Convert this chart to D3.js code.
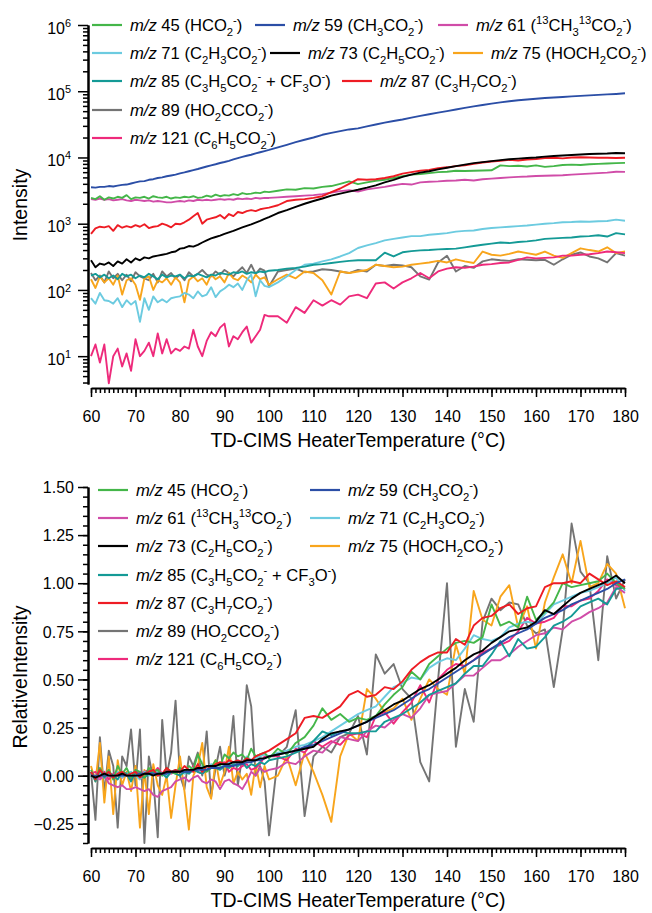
<!DOCTYPE html>
<html>
<head>
<meta charset="utf-8">
<script src="https://cdn.jsdelivr.net/npm/d3@7"></script>
<style>
  body { margin: 0; background: #fff; }
  text { font-family: "Liberation Sans", Arial, sans-serif; fill: #000; }
</style>
</head>
<body>
<svg id="chart" width="652" height="913"></svg>
<script>
// heater temperature (°C) of every sample
const temps = [60,61,62,63,64,65,66,67,68,69,70,71,72,73,74,75,76,77,78,79,80,81,82,83,84,85,86,87,88,89,90,91,92,93,94,95,96,97,98,99,100,
  102,104,106,108,110,112,114,116,118,120,122,124,126,128,130,132,134,136,138,140,142,144,146,148,150,152,154,156,158,160,162,164,166,168,170,172,174,176,178,180];

const ions = ['45', '59', '61', '71', '73', '75', '85', '87', '89', '121'];
const formulas = ['(HCO_{2}^{-})', '(CH_{3}CO_{2}^{-})', '(^{13}CH_{3}^{13}CO_{2}^{-})', '(C_{2}H_{3}CO_{2}^{-})',
  '(C_{2}H_{5}CO_{2}^{-})', '(HOCH_{2}CO_{2}^{-})', '(C_{3}H_{5}CO_{2}^{-} + CF_{3}O^{-})', '(C_{3}H_{7}CO_{2}^{-})',
  '(HO_{2}CCO_{2}^{-})', '(C_{6}H_{5}CO_{2}^{-})'];
const colors = ['#44b649', '#2b4ea6', '#d04ca8', '#6ccbe0', '#000000', '#f8a51c', '#149a96', '#ee1c24', '#747474', '#ee2a7b'];

const yTickDecades = [10, 100, 1000, 10000, 100000, 1000000];
const relTicks = [-0.25, 0, 0.25, 0.5, 0.75, 1, 1.25, 1.5];
const xTicks = [60, 70, 80, 90, 100, 110, 120, 130, 140, 150, 160, 170, 180];

// intensity (top panel)
const int45 = [2450,2350,2600,2300,2500,2400,2550,2450,2700,2350,2500,2450,2550,2400,2600,2500,2450,2550,2400,2500,2450,2550,2500,2600,2450,2500,2650,2550,2750,2600,2700,2650,2800,2700,2900,2800,2850,2950,2900,3050,3000,
  3150,3300,3250,3450,3400,3600,3700,4000,4350,3950,4200,4450,4600,4900,5200,5500,5600,5800,6000,6100,6300,6250,6300,6350,6400,7600,7400,7500,7300,7600,7200,7400,7700,7800,7700,7900,8000,8100,8200,8300];
const int59 = [3550,3500,3600,3600,3700,3650,3750,3850,3900,4050,4200,4350,4400,4600,4700,4900,5000,5200,5350,5500,5750,5950,6200,6450,6700,7000,7300,7600,7900,8250,8550,8900,9350,9800,10200,10600,11000,11500,12000,12500,13000,
  14200,15500,17000,18500,20000,22000,23500,25000,26500,27500,29500,31500,33500,35500,37500,40000,42500,45000,47500,50000,53000,56000,59000,62000,65000,68000,70500,73000,75000,77000,79000,80500,82000,83500,85000,86500,88000,89500,91000,93000];
const int61 = [2350,2300,2400,2300,2350,2250,2300,2350,2250,2200,2300,2250,2200,2250,2150,2200,2150,2100,2100,2150,2200,2150,2250,2200,2300,2250,2300,2250,2300,2350,2300,2350,2300,2400,2350,2400,2350,2450,2400,2450,2450,
  2500,2550,2600,2650,2700,2800,2950,3100,3200,3050,3300,3450,3600,3800,4000,3900,4200,4300,4350,4450,4500,4600,4500,4700,4800,4900,5000,5100,5150,5250,5300,5350,5400,5500,5600,5700,5800,5900,6100,6050];
const int71 = [75,62,90,70,68,62,75,55,70,60,68,33,75,50,80,65,72,65,75,78,80,90,85,75,95,80,85,110,78,95,105,120,110,125,100,140,170,80,140,115,110,
  130,160,200,240,250,270,290,320,360,430,470,510,560,590,620,650,650,680,700,720,760,780,790,830,860,880,900,920,940,970,1000,1020,1050,1060,1080,1070,1090,1100,1150,1110];
const int73 = [280,220,250,240,260,230,270,250,290,260,300,280,310,300,320,330,340,350,370,380,420,430,460,450,480,520,560,600,630,660,700,740,780,830,880,930,980,1040,1100,1180,1260,
  1450,1600,1800,2000,2200,2400,2650,2850,3050,3250,3500,3800,4200,4600,5100,5500,5900,6200,6600,7000,7400,7800,8200,8500,8800,9100,9400,9600,9800,10000,10300,10500,10700,10900,11100,11300,11400,11500,11700,11600];
const int75 = [145,107,160,130,150,120,165,85,140,150,120,71,150,160,100,140,130,150,120,155,130,65,140,160,135,150,120,170,145,160,130,180,150,140,165,150,130,170,145,155,120,
  145,170,150,190,180,140,85,190,180,190,200,240,230,220,225,240,250,260,275,260,290,270,255,380,340,330,350,380,360,340,380,330,305,360,425,400,380,440,360,380];
const int85 = [165,175,155,170,150,165,145,175,160,170,150,165,155,175,160,145,170,155,165,160,170,150,165,160,175,165,155,170,165,180,175,170,185,180,190,175,185,180,190,185,195,
  200,210,215,225,240,245,255,265,275,280,280,280,365,320,370,385,395,400,410,415,420,440,460,480,500,520,510,530,540,560,590,600,610,620,640,650,670,640,720,690];
const int87 = [700,850,900,880,920,780,950,870,920,880,950,900,980,860,900,920,1000,950,880,1000,980,1050,1150,1300,1450,1000,1150,1200,1250,1350,1200,1400,1300,1500,1450,1550,1600,1550,1650,1700,1750,
  1900,2200,2300,2350,2450,2600,3000,3400,4000,4700,4600,4700,4900,5200,5700,6000,6300,6500,6900,7100,7400,7600,8000,8400,8700,8900,9200,9000,9300,9500,9800,9900,9700,10000,10100,10000,9900,9900,9800,9900];
const int89 = [180,140,165,130,190,150,175,140,170,135,185,160,150,140,175,130,190,160,180,150,170,140,185,160,175,200,170,160,190,170,200,180,160,190,220,180,240,175,210,195,113,
  190,200,210,185,190,205,200,190,180,200,190,240,230,240,235,220,160,143,260,328,190,230,215,270,290,280,275,290,285,280,285,240,290,340,368,320,300,260,360,330];
const int121 = [10,15,8,15,3.9,10,13,7,11,6,18,10,12,16,10,22,11,18,11,13,12,14,13,25,14,10,17,23,20,27,31,14,20,18,23,28,16,20,25,42,40,
  40,32,55,45,70,58,70,60,80,85,75,125,130,105,130,150,180,150,190,210,220,215,225,240,245,255,260,285,310,300,305,310,330,330,340,345,360,380,370,360];

// relative intensity (bottom panel)
const rel45 = [0.03,-0.02,0.04,0,0.03,-0.02,0.05,0.01,0.04,-0.01,0.03,0.02,-0.01,0.04,0.02,0.03,0,0.04,0.02,0.01,0.04,0.02,0.05,0.03,0.11,0.06,0.02,0.04,0.08,0.05,0.11,0.09,0.12,0.1,0.11,0.08,0.14,0.1,0.11,0.12,0.09,
  0.14,0.11,0.17,0.2,0.26,0.35,0.29,0.32,0.28,0.3,0.29,0.31,0.37,0.42,0.46,0.54,0.5,0.58,0.62,0.66,0.69,0.7,0.69,0.72,0.89,0.78,0.8,0.77,0.93,0.81,0.85,0.9,1.0,0.98,0.99,1.0,1.01,1.05,1.0,0.97];
const rel59 = [0,0,0,0,0,0,0,0,0,0,0,0.01,0.01,0.01,0.01,0.01,0.01,0.01,0.02,0.02,0.02,0.02,0.02,0.03,0.03,0.03,0.03,0.04,0.04,0.04,0.05,0.05,0.05,0.06,0.06,0.07,0.07,0.08,0.08,0.09,0.1,
  0.11,0.12,0.13,0.15,0.16,0.18,0.2,0.22,0.24,0.26,0.28,0.3,0.32,0.34,0.37,0.4,0.43,0.45,0.48,0.51,0.54,0.57,0.6,0.63,0.66,0.69,0.72,0.74,0.76,0.79,0.82,0.84,0.86,0.89,0.91,0.93,0.95,0.97,1.0,1.02];
const rel61 = [0,-0.01,-0.02,0,-0.04,-0.05,-0.06,-0.05,-0.07,-0.07,-0.06,-0.07,-0.08,-0.07,-0.1,-0.11,-0.08,-0.07,-0.06,-0.03,-0.02,-0.01,-0.03,-0.01,0,-0.03,-0.04,-0.02,-0.03,-0.07,-0.03,-0.02,-0.04,-0.05,-0.07,-0.03,0.02,0,0.04,0.02,0.03,
  0.04,0.07,0.06,0.1,0.13,0.12,0.17,0.2,0.19,0.18,0.23,0.26,0.25,0.29,0.32,0.3,0.35,0.42,0.43,0.44,0.48,0.52,0.52,0.56,0.6,0.6,0.63,0.67,0.7,0.73,0.74,0.77,0.76,0.8,0.82,0.85,0.87,0.9,0.98,0.95];
const rel71 = [0,-0.02,0.02,-0.01,0.01,0,0.02,-0.01,0.01,0.02,0,-0.02,0.02,0,0.01,0.02,0.01,0,0.02,0.03,0.02,0.01,0.03,0.04,0.03,0.05,0.04,0.06,0.05,0.04,0.06,0.07,0.05,0.08,0.07,0.1,0.08,0.09,0.1,0.11,0.1,
  0.12,0.13,0.15,0.16,0.18,0.2,0.23,0.26,0.29,0.32,0.34,0.36,0.41,0.46,0.48,0.51,0.5,0.56,0.59,0.61,0.6,0.66,0.73,0.71,0.7,0.72,0.77,0.79,0.8,0.79,0.84,0.89,0.91,0.93,0.95,0.96,0.98,1.0,1.03,0.96];
const rel73 = [0,-0.01,0,0.01,0,0,0,0.01,0,0,0,0,0.01,0.01,0,0.01,0.01,0.02,0.02,0.02,0.02,0.03,0.03,0.03,0.04,0.04,0.05,0.05,0.05,0.06,0.06,0.06,0.07,0.07,0.07,0.08,0.08,0.08,0.09,0.09,0.1,
  0.11,0.12,0.13,0.14,0.15,0.19,0.22,0.23,0.24,0.26,0.28,0.31,0.34,0.37,0.39,0.42,0.45,0.47,0.5,0.53,0.56,0.6,0.63,0.65,0.69,0.72,0.75,0.76,0.77,0.8,0.86,0.84,0.88,0.92,0.95,0.97,0.99,1.01,1.04,1.0];
const rel75 = [0.05,-0.03,0.17,-0.14,0.1,-0.2,0.08,-0.05,0.02,-0.08,0.05,-0.27,0.03,-0.2,0.06,-0.05,-0.1,0.0,-0.22,-0.05,0.1,-0.08,-0.28,0.0,0.05,0.17,-0.06,-0.12,0.08,-0.05,0.02,0.15,-0.04,0.02,-0.02,0.01,-0.1,0.06,-0.06,0.05,-0.02,
  0.0,0.1,-0.05,0.12,0.02,-0.1,-0.24,0.1,0.22,0.18,0.45,0.4,0.33,0.35,0.4,0.29,0.4,0.5,0.45,0.42,0.68,0.53,0.96,0.81,0.78,0.93,0.99,0.77,0.88,0.66,0.9,1.03,1.15,1.0,1.22,0.98,1.0,1.1,1.05,0.87];
const rel85 = [0.02,-0.03,0.03,-0.01,0.02,0,-0.02,0.02,0.01,-0.03,0.02,0,-0.01,0.01,0.02,0,0.01,-0.01,0.02,0.01,0,0.02,0.01,0.03,0.02,0.01,0.03,0.05,0.04,0.03,0.05,0.04,0.06,0.05,0.07,0.04,0.06,0.05,0.07,0.06,0.08,
  0.09,0.1,0.12,0.14,0.18,0.23,0.21,0.23,0.22,0.22,0.23,0.23,0.28,0.3,0.32,0.35,0.38,0.42,0.44,0.46,0.48,0.53,0.57,0.57,0.63,0.7,0.62,0.71,0.66,0.67,0.72,0.78,0.8,0.83,0.88,0.9,0.92,0.89,0.97,0.98];
const rel87 = [0.02,-0.02,0.03,0,0.02,-0.01,0.01,0.02,0,0.01,0.02,-0.01,0.01,0.02,0.03,0,0.01,0.04,0.02,0.03,0.02,0.05,0.03,0.02,0.06,0.02,0.05,0.04,0.06,0.07,0.06,0.08,0.07,0.08,0.07,0.09,0.08,0.1,0.11,0.12,0.13,
  0.16,0.19,0.22,0.3,0.31,0.3,0.33,0.36,0.42,0.44,0.41,0.42,0.46,0.45,0.49,0.55,0.59,0.62,0.64,0.64,0.71,0.68,0.78,0.82,0.83,0.87,0.89,0.84,0.87,0.88,0.98,1.0,1.0,1.01,1.0,1.05,1.02,0.99,1.01,0.98];
const rel89 = [0.02,-0.23,0.2,-0.09,0.13,0.05,-0.27,0.1,0.05,0.24,-0.05,0.24,-0.35,0.1,-0.02,-0.32,0.29,0.0,0.12,0.39,0.0,-0.07,0.1,0.05,0.12,0.0,0.23,-0.11,0.04,0.15,0.0,0.08,0.31,-0.05,0.1,0.47,0.36,0.0,0.05,-0.03,-0.31,
  0.1,0.15,0.34,-0.21,0.1,0.15,0.12,0.2,0.22,0.31,0.11,0.63,0.53,0.58,0.45,0.4,0.07,-0.03,0.5,1.0,0.15,0.45,0.28,0.8,0.92,0.86,0.9,0.89,0.78,0.74,0.76,0.46,0.76,1.31,1.06,1.0,0.6,1.14,0.92,1.02];
const rel121 = [0.01,0.02,-0.01,0.02,-0.02,0.01,0.02,-0.01,0.01,-0.02,0.03,0.01,0.02,0.03,0.01,0.04,0.01,0.03,0.01,0.02,0.02,0.02,0.02,0.05,0.02,0.01,0.03,0.05,0.04,0.06,0.07,0.02,0.04,0.03,0.05,0.06,0.03,0.04,0.06,0.1,0.1,
  0.1,0.08,0.14,0.12,0.18,0.15,0.18,0.16,0.21,0.22,0.2,0.31,0.33,0.27,0.33,0.38,0.47,0.38,0.5,0.55,0.58,0.57,0.6,0.64,0.66,0.68,0.7,0.75,0.82,0.79,0.8,0.82,0.88,0.88,0.91,0.92,0.96,1.02,0.99,0.97];

const intensity = [int45, int59, int61, int71, int73, int75, int85, int87, int89, int121];
const relative = [rel45, rel59, rel61, rel71, rel73, rel75, rel85, rel87, rel89, rel121];

// gray and orange underneath, black on top
const drawOrder = [8, 5, 9, 2, 3, 6, 0, 7, 1, 4];

const svg = d3.select('#chart');

const x = d3.scaleLinear().domain([60, 180]).range([91, 625]);
const yTop = d3.scaleLog().domain([3.8, 1e6]).range([384, 25]);
const yBot = d3.scaleLinear().domain([-0.35, 1.5]).range([843, 487]);

const topAxisY = 388;
const botAxisY = 848;
const yAxisX = 88;
const legendSize = 16.6;

// rich text: _{..} subscript, ^{..} superscript
function richText(sel, markup, size) {
  const parts = markup.split(/(_\{[^}]*\}|\^\{[^}]*\})/).filter((p) => p.length);
  let shift = 0;
  parts.forEach((p) => {
    let txt = p, target = 0, fs = size;
    if (p[0] === '_') { txt = p.slice(2, -1); target = size * 0.3; fs = size * 0.68; }
    else if (p[0] === '^') { txt = p.slice(2, -1); target = -size * 0.42; fs = size * 0.68; }
    sel.append('tspan').attr('dy', target - shift).attr('font-size', fs).text(txt);
    shift = target;
  });
}

function styleAxis(g) {
  g.select('.domain').attr('stroke', '#000').attr('stroke-width', 2);
  g.selectAll('.tick line').attr('stroke', '#000').attr('stroke-width', 1.5);
}

function xAxis(yPos) {
  svg.append('g').attr('transform', `translate(0,${yPos})`)
    .call(d3.axisBottom(x).tickValues(d3.range(60, 181, 1)).tickSize(5).tickSizeOuter(0).tickFormat(''))
    .call(styleAxis)
    .call((g) => g.select('.domain').remove());
  svg.append('g').attr('transform', `translate(0,${yPos})`)
    .call(d3.axisBottom(x).tickValues(xTicks).tickSize(9).tickSizeOuter(0).tickFormat(d3.format('d')))
    .call(styleAxis)
    .call((g) => g.selectAll('text').attr('y', 34).attr('dy', null).attr('font-size', 16)
      .attr('font-family', '"Liberation Sans", Arial, sans-serif'));
  svg.append('text')
    .attr('x', (x.range()[0] + x.range()[1]) / 2).attr('y', yPos + 59)
    .attr('text-anchor', 'middle').attr('font-size', 19.5)
    .text('TD-CIMS HeaterTemperature (°C)');
}

// ---- top panel ----
const minorLog = [];
for (let e = 0; e < 6; e++) {
  for (let m = 2; m <= 9; m++) {
    const v = m * Math.pow(10, e);
    if (v >= 3.8) minorLog.push(v);
  }
}
svg.append('g').attr('transform', `translate(${yAxisX},0)`)
  .call(d3.axisLeft(yTop).tickValues(minorLog).tickSize(5).tickSizeOuter(0).tickFormat(''))
  .call(styleAxis);
svg.append('g').attr('transform', `translate(${yAxisX},0)`)
  .call(d3.axisLeft(yTop).tickValues(yTickDecades).tickSize(10).tickSizeOuter(0).tickFormat(''))
  .call(styleAxis);

const decadeLabels = svg.append('g').selectAll('text').data(yTickDecades).enter().append('text')
  .attr('x', 71).attr('y', (d) => yTop(d) + 8.5)
  .attr('text-anchor', 'end').attr('font-size', 16);
decadeLabels.each(function (d) {
  richText(d3.select(this), '10^{' + Math.round(Math.log10(d)) + '}', 16);
});

svg.append('text')
  .attr('transform', `translate(27,205) rotate(-90)`)
  .attr('text-anchor', 'middle').attr('font-size', 19.5)
  .text('Intensity');

xAxis(topAxisY);

const lineTop = d3.line().x((d) => x(d[0])).y((d) => yTop(d[1]));
svg.append('g').selectAll('path').data(drawOrder).enter().append('path')
  .attr('d', (i) => lineTop(temps.map((t, k) => [t, intensity[i][k]])))
  .attr('fill', 'none').attr('stroke', (i) => colors[i])
  .attr('stroke-width', 1.9).attr('stroke-linejoin', 'round');

// ---- bottom panel ----
svg.append('g').attr('transform', `translate(${yAxisX},0)`)
  .call(d3.axisLeft(yBot).tickValues(d3.range(-0.35, 1.51, 0.05)).tickSize(5).tickSizeOuter(0).tickFormat(''))
  .call(styleAxis);
svg.append('g').attr('transform', `translate(${yAxisX},0)`)
  .call(d3.axisLeft(yBot).tickValues(relTicks).tickSize(10).tickSizeOuter(0).tickFormat(d3.format('.2f')))
  .call(styleAxis)
  .call((g) => g.selectAll('text').attr('x', -14).attr('dy', '0.36em').attr('font-size', 16)
    .attr('font-family', '"Liberation Sans", Arial, sans-serif'));

svg.append('text')
  .attr('transform', `translate(27,677) rotate(-90)`)
  .attr('text-anchor', 'middle').attr('font-size', 19.5)
  .text('RelativeIntensity');

xAxis(botAxisY);

const lineBot = d3.line().x((d) => x(d[0])).y((d) => yBot(d[1]));
svg.append('g').selectAll('path').data(drawOrder).enter().append('path')
  .attr('d', (i) => lineBot(temps.map((t, k) => [t, relative[i][k]])))
  .attr('fill', 'none').attr('stroke', (i) => colors[i])
  .attr('stroke-width', 1.9).attr('stroke-linejoin', 'round');

// ---- legends ----
function legend(items) {
  const g = svg.append('g');
  items.forEach((it) => {
    g.append('line')
      .attr('x1', it.x).attr('x2', it.x + 30).attr('y1', it.y).attr('y2', it.y)
      .attr('stroke', colors[it.i]).attr('stroke-width', 2.2);
    const t = g.append('text').attr('x', it.x + 38).attr('y', it.y + 6).attr('font-size', legendSize);
    t.append('tspan').attr('font-style', 'italic').text('m/z');
    richText(t, ' ' + ions[it.i] + ' ' + formulas[it.i], legendSize);
  });
}

legend([
  { i: 0, x: 92, y: 25 }, { i: 1, x: 255, y: 25 }, { i: 2, x: 438, y: 25 },
  { i: 3, x: 92, y: 53 }, { i: 4, x: 270, y: 53 }, { i: 5, x: 453, y: 53 },
  { i: 6, x: 92, y: 81 }, { i: 7, x: 342, y: 81 },
  { i: 8, x: 92, y: 110 },
  { i: 9, x: 92, y: 138 }
]);

legend([
  { i: 0, x: 98, y: 490 }, { i: 1, x: 310, y: 490 },
  { i: 2, x: 98, y: 518 }, { i: 3, x: 310, y: 518 },
  { i: 4, x: 98, y: 546 }, { i: 5, x: 310, y: 546 },
  { i: 6, x: 98, y: 575 },
  { i: 7, x: 98, y: 603 },
  { i: 8, x: 98, y: 631 },
  { i: 9, x: 98, y: 659 }
]);
</script>
</body>
</html>
